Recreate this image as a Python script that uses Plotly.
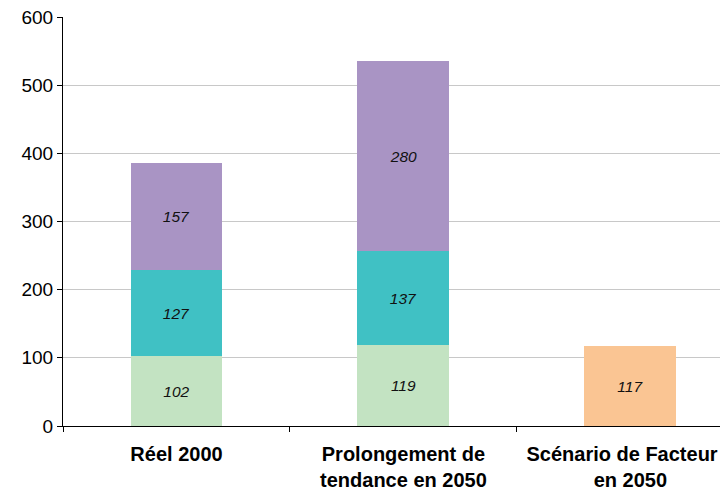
import plotly.graph_objects as go

# -----------------------------------------------------------
# Data
# -----------------------------------------------------------
categories = [
    "Réel 2000",
    "Prolongement de<br>tendance en 2050",
    "Scénario de Facteur 4<br>en 2050",
]
base_values = [102, 119, None]
middle_values = [127, 137, None]
top_values = [157, 280, None]
facteur4_values = [None, None, 117]

labels = [f"<b>{c}</b>" for c in categories]

# -----------------------------------------------------------
# Traces
# -----------------------------------------------------------
def add_bar(fig, y, color, name):
    """
    Add one stacked bar series with italic value labels.
    """
    fig.add_trace(
        go.Bar(
            x=labels,
            y=y,
            name=name,
            width=0.405,
            marker=dict(color=color, line=dict(width=0)),
            texttemplate="<i>%{y}</i>",
            textposition="inside",
            insidetextanchor="middle",
            textangle=0,
            textfont=dict(family="Liberation Sans, Arial, sans-serif", size=15.5, color="#111111"),
            hoverinfo="skip",
        )
    )


fig = go.Figure()
add_bar(fig, base_values, "#C3E3C2", "base")
add_bar(fig, middle_values, "#40C1C4", "middle")
add_bar(fig, top_values, "#A994C4", "top")
add_bar(fig, facteur4_values, "#FAC593", "facteur4")

# the page body has an 8px margin; the plot area is set so it reaches the window's right edge
fig.update_layout(
    width=728,
    height=481,
    barmode="stack",
    showlegend=False,
    plot_bgcolor="white",
    paper_bgcolor="white",
    margin=dict(l=55, r=8, t=9, b=63),
    font=dict(family="Liberation Sans, Arial, sans-serif", size=19, color="black"),
    uniformtext=dict(mode=False),
)

fig.update_xaxes(
    range=[-0.5, 2.43],
    automargin=False,
    showline=True,
    linecolor="black",
    linewidth=1,
    ticks="outside",
    tickson="boundaries",
    ticklen=5,
    tickcolor="black",
    showgrid=False,
    tickfont=dict(size=20),
    ticklabelstandoff=10,
    ticklabeloverflow="allow",
)

fig.update_yaxes(
    range=[0, 600],
    dtick=100,
    automargin=False,
    showline=True,
    linecolor="black",
    linewidth=1,
    ticks="outside",
    ticklen=5,
    tickcolor="black",
    showgrid=True,
    gridcolor="#C8C8C8",
    gridwidth=1,
    zeroline=False,
    tickfont=dict(size=19),
    ticklabeloverflow="allow",
)

fig.write_html("out.html")
